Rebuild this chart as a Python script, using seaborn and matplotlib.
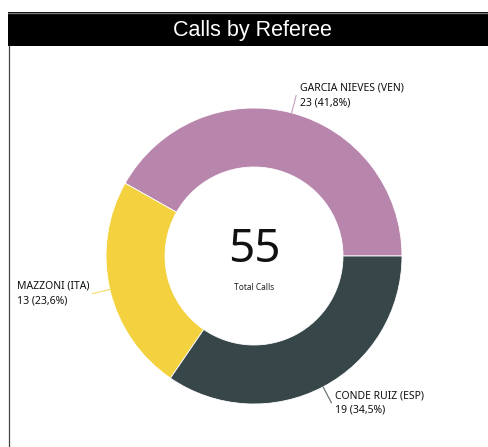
import numpy as np
import matplotlib.pyplot as plt
import seaborn as sns
from matplotlib.patches import Rectangle

# data
referees = ["GARCIA NIEVES (VEN)", "MAZZONI (ITA)", "CONDE RUIZ (ESP)"]
calls = [23, 13, 19]
pct_labels = ["41,8%", "23,6%", "34,5%"]
colors = ["#B886AC", "#F4D23F", "#374649"]
title = "Calls by Referee"
center_caption = "Total Calls"

sns.set_theme(style="white")
plt.rcParams['font.family'] = ['Noto Sans', 'DejaVu Sans']

W, H = 488, 447
fig = plt.figure(figsize=(W / 100, H / 100), dpi=100)
ax = fig.add_axes([0, 0, 1, 1])

# pixel helpers (image y grows downward)
def py(y):
    return H - y

cx, cy = 254, py(256)
r_out, r_in = 148, 89

wedges, _ = ax.pie(calls, colors=sns.color_palette(colors), startangle=0,
                   counterclock=True, radius=r_out, center=(cx, cy),
                   wedgeprops=dict(width=r_out - r_in, edgecolor="white", linewidth=0.6))

ax.set_xlim(0, W)
ax.set_ylim(0, H)
ax.set_aspect("equal", adjustable="datalim")
ax.axis("off")

# labels with short leader lines
for w, name, n, p, col in zip(wedges, referees, calls, pct_labels, colors):
    ang = np.deg2rad((w.theta1 + w.theta2) / 2)
    x0, y0 = cx + r_out * np.cos(ang), cy + r_out * np.sin(ang)
    x1, y1 = cx + 166 * np.cos(ang), cy + 166 * np.sin(ang)
    ax.plot([x0, x1], [y0, y1], color=col, lw=0.8, alpha=0.8)
    right = np.cos(ang) >= 0
    ax.text(x1 + (4 if right else -3), y1, f"{name}\n{n} ({p})",
            ha="left" if right else "right", va="center", multialignment="left",
            fontsize=7.5, color="#111111", linespacing=1.42)

# center total
ax.text(cx, py(250), str(sum(calls)), ha="center", va="center",
        fontsize=33, color="#111111")
ax.text(cx, py(287), center_caption, ha="center", va="center",
        fontsize=6, color="#252423")

# header bar and left border
ax.add_patch(Rectangle((8, py(46)), W - 8, 34, facecolor="black", edgecolor="none"))
ax.plot([8, W], [py(12.5), py(12.5)], color="#777777", lw=1)
ax.plot([8.5, 8.5], [0, py(46)], color="#444444", lw=0.9)
ax.text(252.5, py(30.5), title, ha="center", va="center", color="white",
        fontsize=15.5, family=["Liberation Sans", "DejaVu Sans"])

plt.savefig("out.png", dpi=100)
